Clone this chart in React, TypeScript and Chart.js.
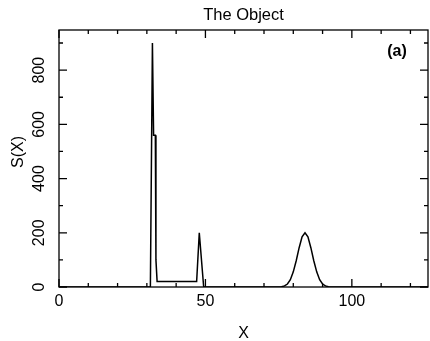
import React, { useEffect, useRef } from "react";
import { Chart, registerables } from "chart.js";

Chart.register(...registerables);

const xValues = [0, 31.2, 31.9, 32.3, 32.9, 33.1, 33.5, 47.0, 47.9, 49.4, 76, 77, 78, 79, 80, 81, 82, 83, 84, 85, 86, 87, 88, 89, 90, 91, 92, 126];
const sValues = [0, 0, 900, 560, 560, 100, 20, 20, 200, 0, 1, 4, 11, 27, 56, 97, 145, 185, 200, 185, 145, 97, 56, 27, 11, 4, 1, 0];

const xTickLabels = ["0", "50", "100"];
const xMajorTicks = [0, 50, 100];
const xMinorTicks = [10, 20, 30, 40, 60, 70, 80, 90, 110, 120];
const yTickLabels = ["0", "200", "400", "600", "800"];
const yMajorTicks = [0, 200, 400, 600, 800];
const yMinorTicks = [100, 300, 500, 700, 900];

const titleText = "The Object";
const xTitle = "X";
const yTitle = "S(X)";
const panelLabel = "(a)";

const FONT = "'Liberation Sans', Arial, sans-serif";

const framePlugin = {
  id: "frame",
  afterDraw(chart: any) {
    const ctx = chart.ctx;
    const { left, right, top, bottom } = chart.chartArea;
    const xs = chart.scales.x;
    const ys = chart.scales.y;
    ctx.save();
    ctx.strokeStyle = "#000";
    ctx.lineWidth = 1.3;
    ctx.strokeRect(left, top, right - left, bottom - top);
    ctx.beginPath();
    const major = 8;
    const minor = 4;
    xMajorTicks.forEach((v) => {
      const p = xs.getPixelForValue(v);
      ctx.moveTo(p, bottom); ctx.lineTo(p, bottom - major);
      ctx.moveTo(p, top); ctx.lineTo(p, top + major);
    });
    xMinorTicks.forEach((v) => {
      const p = xs.getPixelForValue(v);
      ctx.moveTo(p, bottom); ctx.lineTo(p, bottom - minor);
      ctx.moveTo(p, top); ctx.lineTo(p, top + minor);
    });
    yMajorTicks.forEach((v) => {
      const p = ys.getPixelForValue(v);
      ctx.moveTo(left, p); ctx.lineTo(left + major, p);
      ctx.moveTo(right, p); ctx.lineTo(right - major, p);
    });
    yMinorTicks.forEach((v) => {
      const p = ys.getPixelForValue(v);
      ctx.moveTo(left, p); ctx.lineTo(left + minor, p);
      ctx.moveTo(right, p); ctx.lineTo(right - minor, p);
    });
    ctx.stroke();

    ctx.fillStyle = "#000";
    ctx.textAlign = "center";
    ctx.textBaseline = "middle";
    ctx.font = `16px ${FONT}`;
    xMajorTicks.forEach((v, i) => {
      ctx.fillText(xTickLabels[i], xs.getPixelForValue(v), bottom + 15);
    });
    ctx.fillText(xTitle, (left + right) / 2, bottom + 47);
    yMajorTicks.forEach((v, i) => {
      ctx.save();
      ctx.translate(left - 19, ys.getPixelForValue(v));
      ctx.rotate(-Math.PI / 2);
      ctx.fillText(yTickLabels[i], 0, 0);
      ctx.restore();
    });
    ctx.save();
    ctx.translate(19, 152);
    ctx.rotate(-Math.PI / 2);
    ctx.fillText(yTitle, 0, 0);
    ctx.restore();

    ctx.font = `16.5px ${FONT}`;
    ctx.fillText(titleText, (left + right) / 2, 15);
    ctx.font = `bold 16px ${FONT}`;
    ctx.fillText(panelLabel, 397, 52);
    ctx.restore();
  },
};

export default function App() {
  const ref = useRef<HTMLCanvasElement | null>(null);
  useEffect(() => {
    document.body.style.margin = "0";
    const data = xValues.map((x, i) => ({ x, y: sValues[i] }));
    const chart = new Chart(ref.current as HTMLCanvasElement, {
      type: "line",
      data: {
        datasets: [
          {
            data,
            borderColor: "#000",
            borderWidth: 1.5,
            pointRadius: 0,
            tension: 0,
            fill: false,
          },
        ],
      },
      options: {
        animation: false,
        responsive: false,
        maintainAspectRatio: false,
        devicePixelRatio: 1,
        layout: { padding: { left: 59, top: 30, right: 2, bottom: 54 } },
        plugins: { legend: { display: false }, tooltip: { enabled: false }, title: { display: false } },
        scales: {
          x: { type: "linear", min: 0, max: 126, display: false },
          y: { type: "linear", min: 0, max: 948, display: false },
        },
      },
      plugins: [framePlugin],
    });
    return () => chart.destroy();
  }, []);
  return (
    <div style={{ position: "absolute", left: 0, top: 0, width: 430, height: 341, background: "#fff" }}>
      <canvas ref={ref} width={430} height={341} style={{ width: 430, height: 341 }} />
    </div>
  );
}
